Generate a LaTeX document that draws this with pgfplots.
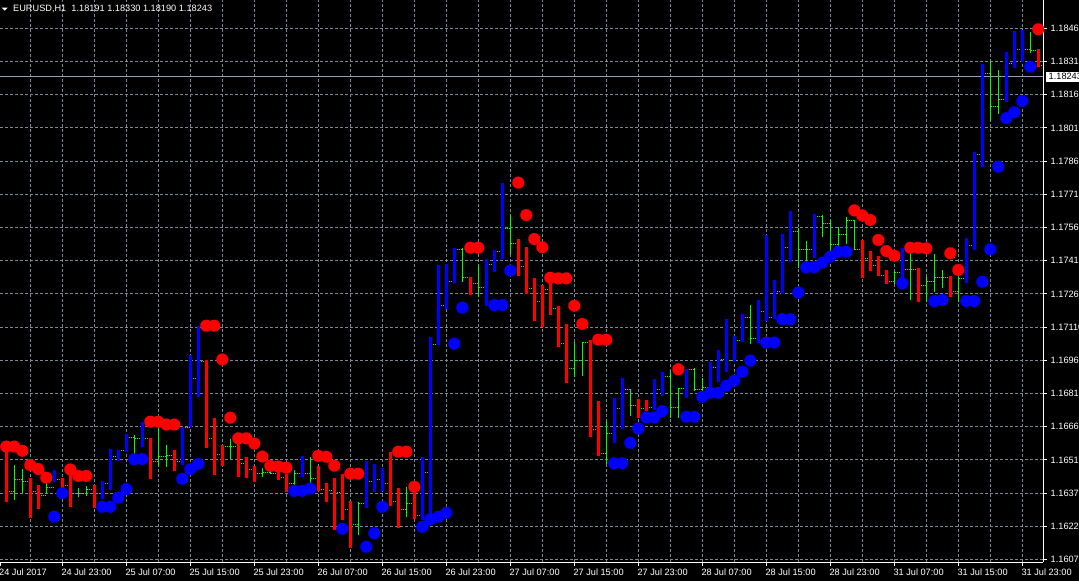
\documentclass[border=0pt]{standalone}
\usepackage{pgfplots}
\pgfplotsset{compat=1.18}
\usepackage{pgfplotstable}
\usepackage{fontspec}
\setmainfont{Liberation Sans}
\definecolor{mtgreen}{RGB}{0,255,0}
\definecolor{mtred}{RGB}{255,0,0}
\definecolor{mtblue}{RGB}{0,0,255}
\definecolor{gridc}{RGB}{119,136,153}
\definecolor{pricec}{RGB}{150,160,180}

% i = bar index (1 hour each), T: 0 plain, 1 red, 2 blue; H L O C prices
\pgfplotstableread{
i T H L O C
1 1 1.16593 1.16330 1.16555 1.16375
2 0 1.16495 1.16338 1.16375 1.16431
3 0 1.16476 1.16368 1.16431 1.16423
4 1 1.16435 1.16258 1.16423 1.16375
5 1 1.16405 1.16297 1.16375 1.16360
6 0 1.16413 1.16368 1.16360 1.16396
7 2 1.16473 1.16420 1.16396 1.16428
8 1 1.16438 1.16390 1.16428 1.16401
9 1 1.16480 1.16307 1.16401 1.16369
10 0 1.16390 1.16350 1.16369 1.16369
11 0 1.16401 1.16357 1.16369 1.16383
12 1 1.16405 1.16303 1.16383 1.16365
13 2 1.16423 1.16341 1.16365 1.16410
14 2 1.16567 1.16383 1.16410 1.16532
15 2 1.16563 1.16514 1.16532 1.16559
16 2 1.16635 1.16555 1.16559 1.16618
17 0 1.16630 1.16545 1.16618 1.16615
18 2 1.16687 1.16575 1.16615 1.16615
19 1 1.16615 1.16431 1.16615 1.16510
20 0 1.16675 1.16487 1.16510 1.16532
21 0 1.16585 1.16485 1.16532 1.16540
22 1 1.16563 1.16468 1.16540 1.16510
23 2 1.16665 1.16495 1.16510 1.16664
24 2 1.16990 1.16667 1.16664 1.16885
25 2 1.17122 1.16800 1.16885 1.16963
26 1 1.16968 1.16570 1.16963 1.16615
27 1 1.16708 1.16450 1.16615 1.16543
28 1 1.16585 1.16492 1.16543 1.16577
29 0 1.16611 1.16521 1.16577 1.16577
30 1 1.16622 1.16442 1.16577 1.16503
31 1 1.16530 1.16438 1.16503 1.16473
32 1 1.16492 1.16420 1.16473 1.16455
33 0 1.16483 1.16440 1.16455 1.16462
34 0 1.16480 1.16455 1.16462 1.16459
35 1 1.16473 1.16428 1.16459 1.16437
36 1 1.16455 1.16375 1.16437 1.16413
37 0 1.16473 1.16405 1.16413 1.16458
38 2 1.16536 1.16442 1.16458 1.16459
39 0 1.16530 1.16390 1.16459 1.16435
40 1 1.16491 1.16379 1.16435 1.16386
41 1 1.16415 1.16330 1.16386 1.16379
42 1 1.16438 1.16203 1.16379 1.16372
43 1 1.16455 1.16248 1.16372 1.16296
44 1 1.16333 1.16123 1.16296 1.16228
45 0 1.16330 1.16180 1.16228 1.16323
46 2 1.16513 1.16303 1.16323 1.16420
47 2 1.16500 1.16375 1.16420 1.16428
48 2 1.16480 1.16378 1.16428 1.16413
49 1 1.16552 1.16312 1.16413 1.16333
50 1 1.16390 1.16213 1.16333 1.16297
51 0 1.16395 1.16260 1.16297 1.16320
52 1 1.16375 1.16251 1.16320 1.16266
53 2 1.16530 1.16248 1.16266 1.16460
54 2 1.17070 1.16261 1.16460 1.17038
55 2 1.17395 1.17035 1.17038 1.17214
56 2 1.17400 1.17197 1.17214 1.17323
57 2 1.17470 1.17316 1.17323 1.17463
58 0 1.17470 1.17320 1.17463 1.17340
59 1 1.17340 1.17260 1.17340 1.17313
60 0 1.17395 1.17250 1.17313 1.17295
61 2 1.17421 1.17212 1.17295 1.17398
62 2 1.17463 1.17365 1.17398 1.17458
63 2 1.17763 1.17421 1.17458 1.17560
64 0 1.17620 1.17443 1.17560 1.17490
65 1 1.17511 1.17346 1.17490 1.17388
66 1 1.17475 1.17265 1.17388 1.17290
67 1 1.17338 1.17143 1.17290 1.17230
68 1 1.17305 1.17118 1.17230 1.17283
69 1 1.17320 1.17170 1.17283 1.17200
70 1 1.17211 1.17028 1.17200 1.17043
71 1 1.17130 1.16866 1.17043 1.16930
72 0 1.17050 1.16893 1.16930 1.16965
73 0 1.17047 1.16897 1.16965 1.17047
74 1 1.17058 1.16622 1.17047 1.16653
75 1 1.16783 1.16537 1.16653 1.16548
76 0 1.16694 1.16500 1.16548 1.16638
77 2 1.16795 1.16593 1.16638 1.16750
78 2 1.16885 1.16656 1.16750 1.16833
79 0 1.16837 1.16716 1.16833 1.16761
80 1 1.16791 1.16705 1.16761 1.16750
81 1 1.16788 1.16738 1.16750 1.16752
82 2 1.16881 1.16743 1.16752 1.16836
83 2 1.16912 1.16806 1.16836 1.16893
84 0 1.16920 1.16708 1.16893 1.16755
85 0 1.16840 1.16708 1.16755 1.16840
86 2 1.16927 1.16798 1.16840 1.16926
87 0 1.16933 1.16828 1.16926 1.16836
88 0 1.16885 1.16815 1.16836 1.16843
89 2 1.16957 1.16822 1.16843 1.16935
90 2 1.17013 1.16870 1.16935 1.16968
91 2 1.17152 1.16912 1.16968 1.16965
92 2 1.17076 1.16957 1.16965 1.17055
93 2 1.17175 1.17050 1.17055 1.17160
94 0 1.17215 1.17040 1.17160 1.17065
95 2 1.17238 1.17043 1.17065 1.17188
96 2 1.17530 1.17143 1.17188 1.17158
97 2 1.17328 1.17152 1.17158 1.17275
98 2 1.17533 1.17263 1.17275 1.17473
99 2 1.17640 1.17410 1.17473 1.17548
100 0 1.17560 1.17380 1.17548 1.17467
101 0 1.17503 1.17403 1.17467 1.17467
102 2 1.17623 1.17428 1.17467 1.17613
103 0 1.17620 1.17523 1.17613 1.17583
104 0 1.17598 1.17458 1.17583 1.17488
105 0 1.17568 1.17458 1.17488 1.17533
106 0 1.17613 1.17488 1.17533 1.17595
107 0 1.17598 1.17467 1.17595 1.17467
108 1 1.17508 1.17337 1.17467 1.17425
109 1 1.17458 1.17368 1.17425 1.17395
110 1 1.17437 1.17346 1.17395 1.17350
111 1 1.17373 1.17308 1.17350 1.17320
112 0 1.17368 1.17308 1.17320 1.17361
113 2 1.17470 1.17320 1.17361 1.17373
114 0 1.17448 1.17238 1.17373 1.17373
115 1 1.17380 1.17227 1.17373 1.17305
116 0 1.17343 1.17230 1.17305 1.17320
117 0 1.17443 1.17272 1.17320 1.17340
118 0 1.17373 1.17293 1.17340 1.17340
119 1 1.17346 1.17253 1.17340 1.17275
120 0 1.17343 1.17230 1.17275 1.17335
121 2 1.17515 1.17313 1.17335 1.17485
122 2 1.17903 1.17463 1.17485 1.17894
123 2 1.18299 1.17835 1.17894 1.18258
124 0 1.18315 1.18043 1.18258 1.18108
125 0 1.18273 1.18075 1.18108 1.18138
126 2 1.18353 1.18130 1.18138 1.18303
127 2 1.18450 1.18283 1.18303 1.18363
128 2 1.18453 1.18310 1.18363 1.18363
129 0 1.18445 1.18348 1.18363 1.18359
130 1 1.18368 1.18288 1.18359 1.18291
}\bars

\pgfplotstableread{
i v
0 1.16608
1 1.16578
2 1.16578
3 1.16559
4 1.16495
5 1.16477
6 1.16438
9 1.16475
10 1.16446
11 1.16446
19 1.16690
20 1.16690
21 1.16677
22 1.16677
26 1.17122
27 1.17122
28 1.16970
29 1.16708
30 1.16615
31 1.16615
32 1.16592
33 1.16533
34 1.16491
35 1.16488
36 1.16483
40 1.16536
41 1.16532
42 1.16492
44 1.16456
45 1.16456
50 1.16555
51 1.16555
52 1.16397
59 1.17473
60 1.17473
65 1.17766
66 1.17620
67 1.17512
68 1.17475
69 1.17338
70 1.17335
71 1.17335
72 1.17212
73 1.17130
75 1.17059
76 1.17059
85 1.16926
107 1.17641
108 1.17618
109 1.17598
110 1.17508
111 1.17458
112 1.17437
114 1.17473
115 1.17473
116 1.17470
119 1.17448
120 1.17373
130 1.18456
}\reddots

\pgfplotstableread{
i v
7 1.16262
8 1.16368
13 1.16307
14 1.16307
15 1.16348
16 1.16387
17 1.16521
18 1.16522
23 1.16433
24 1.16476
25 1.16500
37 1.16379
38 1.16379
39 1.16389
43 1.16208
46 1.16127
47 1.16188
48 1.16307
53 1.16217
54 1.16251
55 1.16262
56 1.16280
57 1.17041
58 1.17203
62 1.17215
63 1.17215
64 1.17370
77 1.16503
78 1.16503
79 1.16595
80 1.16659
81 1.16709
82 1.16709
83 1.16738
86 1.16712
87 1.16712
88 1.16802
89 1.16820
90 1.16820
91 1.16852
92 1.16875
93 1.16915
94 1.16965
96 1.17046
97 1.17046
98 1.17151
99 1.17151
100 1.17271
101 1.17385
102 1.17385
103 1.17406
104 1.17433
105 1.17455
106 1.17455
113 1.17313
117 1.17233
118 1.17238
121 1.17233
122 1.17233
123 1.17320
124 1.17466
125 1.17838
126 1.18056
127 1.18083
128 1.18133
129 1.18288
}\bluedots

\newcommand{\mtfont}{\fontsize{9.2bp}{11bp}\selectfont}

\begin{document}
\begin{tikzpicture}
\useasboundingbox (0,0) rectangle (1079bp,581bp);
\fill[black] (0,0) rectangle (1079bp,581bp);
\begin{axis}[
  at={(0,19bp)}, anchor=south west,
  scale only axis, width=1043bp, height=562bp,
  xmin=0.2125, xmax=130.5875, ymin=1.160585, ymax=1.18588,
  axis x line=bottom, axis y line=right,
  axis line style={-, white, line width=1bp},
  clip mode=individual,
  scaled y ticks=false, scaled x ticks=false,
  xtick={8,16,...,128},
  xticklabels={24 Jul 23:00,25 Jul 07:00,25 Jul 15:00,25 Jul 23:00,26 Jul 07:00,26 Jul 15:00,26 Jul 23:00,27 Jul 07:00,27 Jul 15:00,27 Jul 23:00,28 Jul 07:00,28 Jul 15:00,28 Jul 23:00,31 Jul 07:00,31 Jul 15:00,31 Jul 23:00},
  minor xtick={4,12,...,124},
  extra x ticks={0.2125},
  extra x tick labels={24 Jul 2017},
  extra x tick style={grid=none},
  ytick={1.160700,1.162194,1.163688,1.165181,1.166675,1.168169,1.169663,1.171156,1.172650,1.174144,1.175638,1.177131,1.178625,1.180119,1.181613,1.183106,1.184600},
  yticklabels={1.16070,1.16220,1.16370,1.16515,1.16665,1.16815,1.16960,1.17110,1.17260,1.17410,1.17560,1.17710,1.17860,1.18010,1.18160,1.18310,1.18460},
  grid=both,
  major grid style={gridc, line width=1bp, dash pattern=on 3bp off 2bp},
  minor grid style={gridc, line width=1bp, dash pattern=on 3bp off 2bp},
  tick align=outside,
  major tick length=3.5bp, minor tick length=0pt,
  tick style={white, line width=1bp},
  tick label style={text=white, font=\mtfont},
  xticklabel style={anchor=north west, inner sep=0pt, xshift=-1bp, yshift=-3bp},
  yticklabel style={anchor=west, inner sep=0pt, xshift=4bp},
]
% current price line
\addplot[pricec, line width=1bp, forget plot] coordinates {(0.2125,1.18243) (130.5875,1.18243)};
% thin high-low lines
\addplot[draw=none, mark=none, forget plot,
  error bars/.cd, y dir=plus, y explicit, error mark=none,
  error bar style={draw=mtgreen, line width=1bp, solid}]
  table[x=i, y=L, y error expr=\thisrow{H}-\thisrow{L}] {\bars};
% open ticks
\addplot[draw=none, mark=none, forget plot,
  error bars/.cd, x dir=minus, x fixed=0.45, error mark=none,
  error bar style={draw=mtgreen, line width=1bp, dash pattern=on 1.2bp off 1.2bp}]
  table[x=i, y=O] {\bars};
% close ticks
\addplot[draw=none, mark=none, forget plot,
  error bars/.cd, x dir=plus, x fixed=0.45, error mark=none,
  error bar style={draw=mtgreen, line width=1bp, dash pattern=on 1.2bp off 1.2bp}]
  table[x=i, y=C] {\bars};
% red thick bars
\addplot[draw=none, mark=none, forget plot,
  restrict expr to domain={\thisrow{T}}{0.5:1.5},
  error bars/.cd, y dir=plus, y explicit, error mark=none,
  error bar style={draw=mtred, line width=3.2bp, solid}]
  table[x=i, y=L, y error expr=\thisrow{H}-\thisrow{L}] {\bars};
% blue thick bars
\addplot[draw=none, mark=none, forget plot,
  restrict expr to domain={\thisrow{T}}{1.5:2.5},
  error bars/.cd, y dir=plus, y explicit, error mark=none,
  error bar style={draw=mtblue, line width=3.2bp, solid}]
  table[x=i, y=L, y error expr=\thisrow{H}-\thisrow{L}] {\bars};
% dots
\addplot[only marks, mark=*, mark size=5.9bp, mark options={fill=mtred, draw=mtred, line width=0.2bp}, forget plot]
  table[x=i, y=v] {\reddots};
\addplot[only marks, mark=*, mark size=5.9bp, mark options={fill=mtblue, draw=mtblue, line width=0.2bp}, forget plot]
  table[x=i, y=v] {\bluedots};
\node[anchor=west, xshift=2.5bp, fill=white, text=black, inner xsep=3bp, inner ysep=1.7bp, text height=6.6bp, text depth=0pt, font=\mtfont] at (axis cs:130.5875,1.18243) {1.18243};
\end{axis}
\fill[white] (1.7bp,573.3bp) -- (7.7bp,573.3bp) -- (4.7bp,570.3bp) -- cycle;
\node[anchor=base west, inner sep=0pt, text=white, font=\mtfont] at (13bp,569.5bp) {EURUSD,H1\ \ 1.18191 1.18330 1.18190 1.18243};
\end{tikzpicture}
\end{document}
